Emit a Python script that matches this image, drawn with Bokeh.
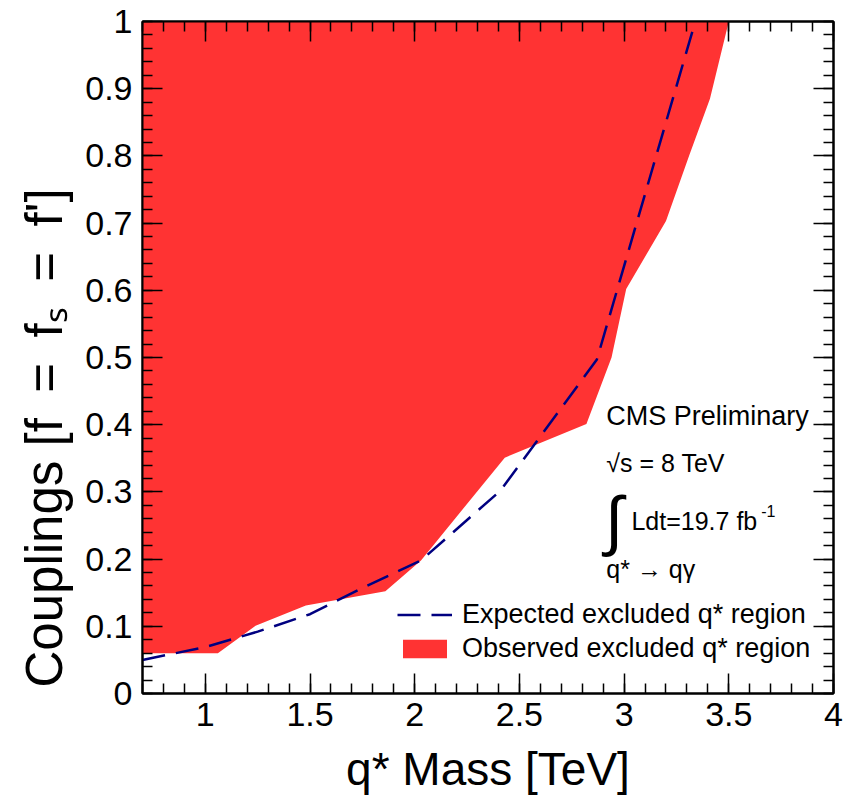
import numpy as np
from bokeh.plotting import figure
from bokeh.models import (FixedTicker, PrintfTickFormatter, LinearAxis, Label,
                          Legend, LegendItem, Range1d, Title)
from bokeh.embed import file_html
from bokeh.resources import INLINE

# ---- data ----
obs_mass = [0.7, 1.06, 1.24, 1.48, 1.66, 1.86, 2.03, 2.43, 2.82, 2.94, 3.01, 3.20, 3.31, 3.41, 3.50]
obs_coupling = [0.06, 0.06, 0.101, 0.131, 0.141, 0.152, 0.198, 0.351, 0.401, 0.50, 0.602, 0.703, 0.80, 0.885, 1.0]
exp_mass = [0.7, 1.0, 1.25, 1.5, 1.75, 2.03, 2.41, 2.87, 3.34]
exp_coupling = [0.050, 0.069, 0.092, 0.118, 0.157, 0.198, 0.302, 0.497, 1.0]

x_major = [1.0, 1.5, 2.0, 2.5, 3.0, 3.5, 4.0]
x_minor = [round(0.7 + 0.1 * i, 2) for i in range(34)]
y_major = [round(0.1 * i, 1) for i in range(11)]
y_minor = [round(0.02 * i, 2) for i in range(51)]

X_MIN, X_MAX = 0.7, 4.0
Y_MIN, Y_MAX = 0.0, 1.0

FONT = "Liberation Sans"
RED = "#ff3333"
NAVY = "#000080"

p = figure(width=846, height=803, x_range=Range1d(X_MIN, X_MAX), y_range=Range1d(Y_MIN, Y_MAX),
           output_backend="svg", toolbar_location=None,
           min_border_left=142, min_border_right=13, min_border_top=21, min_border_bottom=110,
           x_axis_location=None, y_axis_location=None)
p.xgrid.visible = False
p.ygrid.visible = False
p.outline_line_color = "black"
p.outline_line_width = 2
p.background_fill_color = "white"
p.border_fill_color = "white"

# observed excluded region (to the upper left of the observed contour)
patch_x = obs_mass + [X_MIN]
patch_y = obs_coupling + [Y_MAX]
r_obs = p.patch(patch_x, patch_y, fill_color=RED, line_color=None)
r_exp = p.line(exp_mass, exp_coupling, line_color=NAVY, line_width=2.5, line_dash="23 11")


def style_axis(ax, ticks, minor, show_labels):
    ax.ticker = FixedTicker(ticks=ticks, minor_ticks=minor)
    ax.major_tick_in = 20
    ax.major_tick_out = 0
    ax.minor_tick_in = 10
    ax.minor_tick_out = 0
    ax.axis_line_color = "black"
    ax.axis_line_width = 2
    ax.major_tick_line_color = "black"
    ax.major_tick_line_width = 1.5
    ax.minor_tick_line_color = "black"
    ax.minor_tick_line_width = 1.5
    ax.major_label_text_font = FONT
    ax.major_label_text_font_size = "34px"
    ax.major_label_text_color = "black"
    ax.axis_label_text_font = FONT
    ax.axis_label_text_font_style = "normal"
    ax.axis_label_text_color = "black"
    if show_labels:
        ax.formatter = PrintfTickFormatter(format="%g")
    else:
        ax.formatter = PrintfTickFormatter(format="")


xb = LinearAxis()
style_axis(xb, x_major, x_minor, True)
xb.axis_label = "q* Mass [TeV]"
xb.axis_label_text_font_size = "46px"
xb.major_label_standoff = 9
xb.axis_label_standoff = 14
p.add_layout(xb, "below")

xt = LinearAxis()
style_axis(xt, x_major, x_minor, False)
p.add_layout(xt, "above")

yl = LinearAxis()
style_axis(yl, y_major, y_minor, True)
yl.major_label_standoff = 10
p.add_layout(yl, "left")

yr = LinearAxis()
style_axis(yr, y_major, y_minor, False)
p.add_layout(yr, "right")

# y-axis title, placed as in the reference (starts near the bottom, not centred)
ytitle = Title(text="Couplings [f\u2002=\u2002fₛ\u2002=\u2002f']", align="left", offset=6, standoff=20,
               text_font=FONT, text_font_size="51px", text_font_style="normal",
               text_color="black")
p.add_layout(ytitle, "left")

# annotations
txt = dict(text_font=FONT, text_color="black", text_baseline="middle", text_align="left")
p.add_layout(Label(x=2.915, y=0.413, text="CMS Preliminary", text_font_size="27px", **txt))
p.add_layout(Label(x=2.915, y=0.343, text="√s = 8 TeV", text_font_size="25px", **txt))
p.add_layout(Label(x=2.952, y=0.258, text="∫", text_font_size="66px", text_font=FONT,
                   text_color="black", text_baseline="middle", text_align="center"))
p.add_layout(Label(x=3.035, y=0.257, text="Ldt=19.7 fb", text_font_size="25px", **txt))
p.add_layout(Label(x=3.655, y=0.271, text="-1", text_font_size="16px", **txt))
p.add_layout(Label(x=2.915, y=0.186, text="q* → qγ", text_font_size="25px", **txt))

legend = Legend(items=[LegendItem(label="Expected excluded q* region", renderers=[r_exp]),
                       LegendItem(label="Observed excluded q* region", renderers=[r_obs])],
                location=(255, 29), padding=0, margin=0, border_line_color=None,
                background_fill_alpha=0, glyph_width=55, glyph_height=23, label_standoff=10,
                spacing=3, label_text_font=FONT, label_text_font_size="27px",
                label_text_color="black")
p.add_layout(legend)

open("out.html", "w").write(file_html(p, INLINE))
